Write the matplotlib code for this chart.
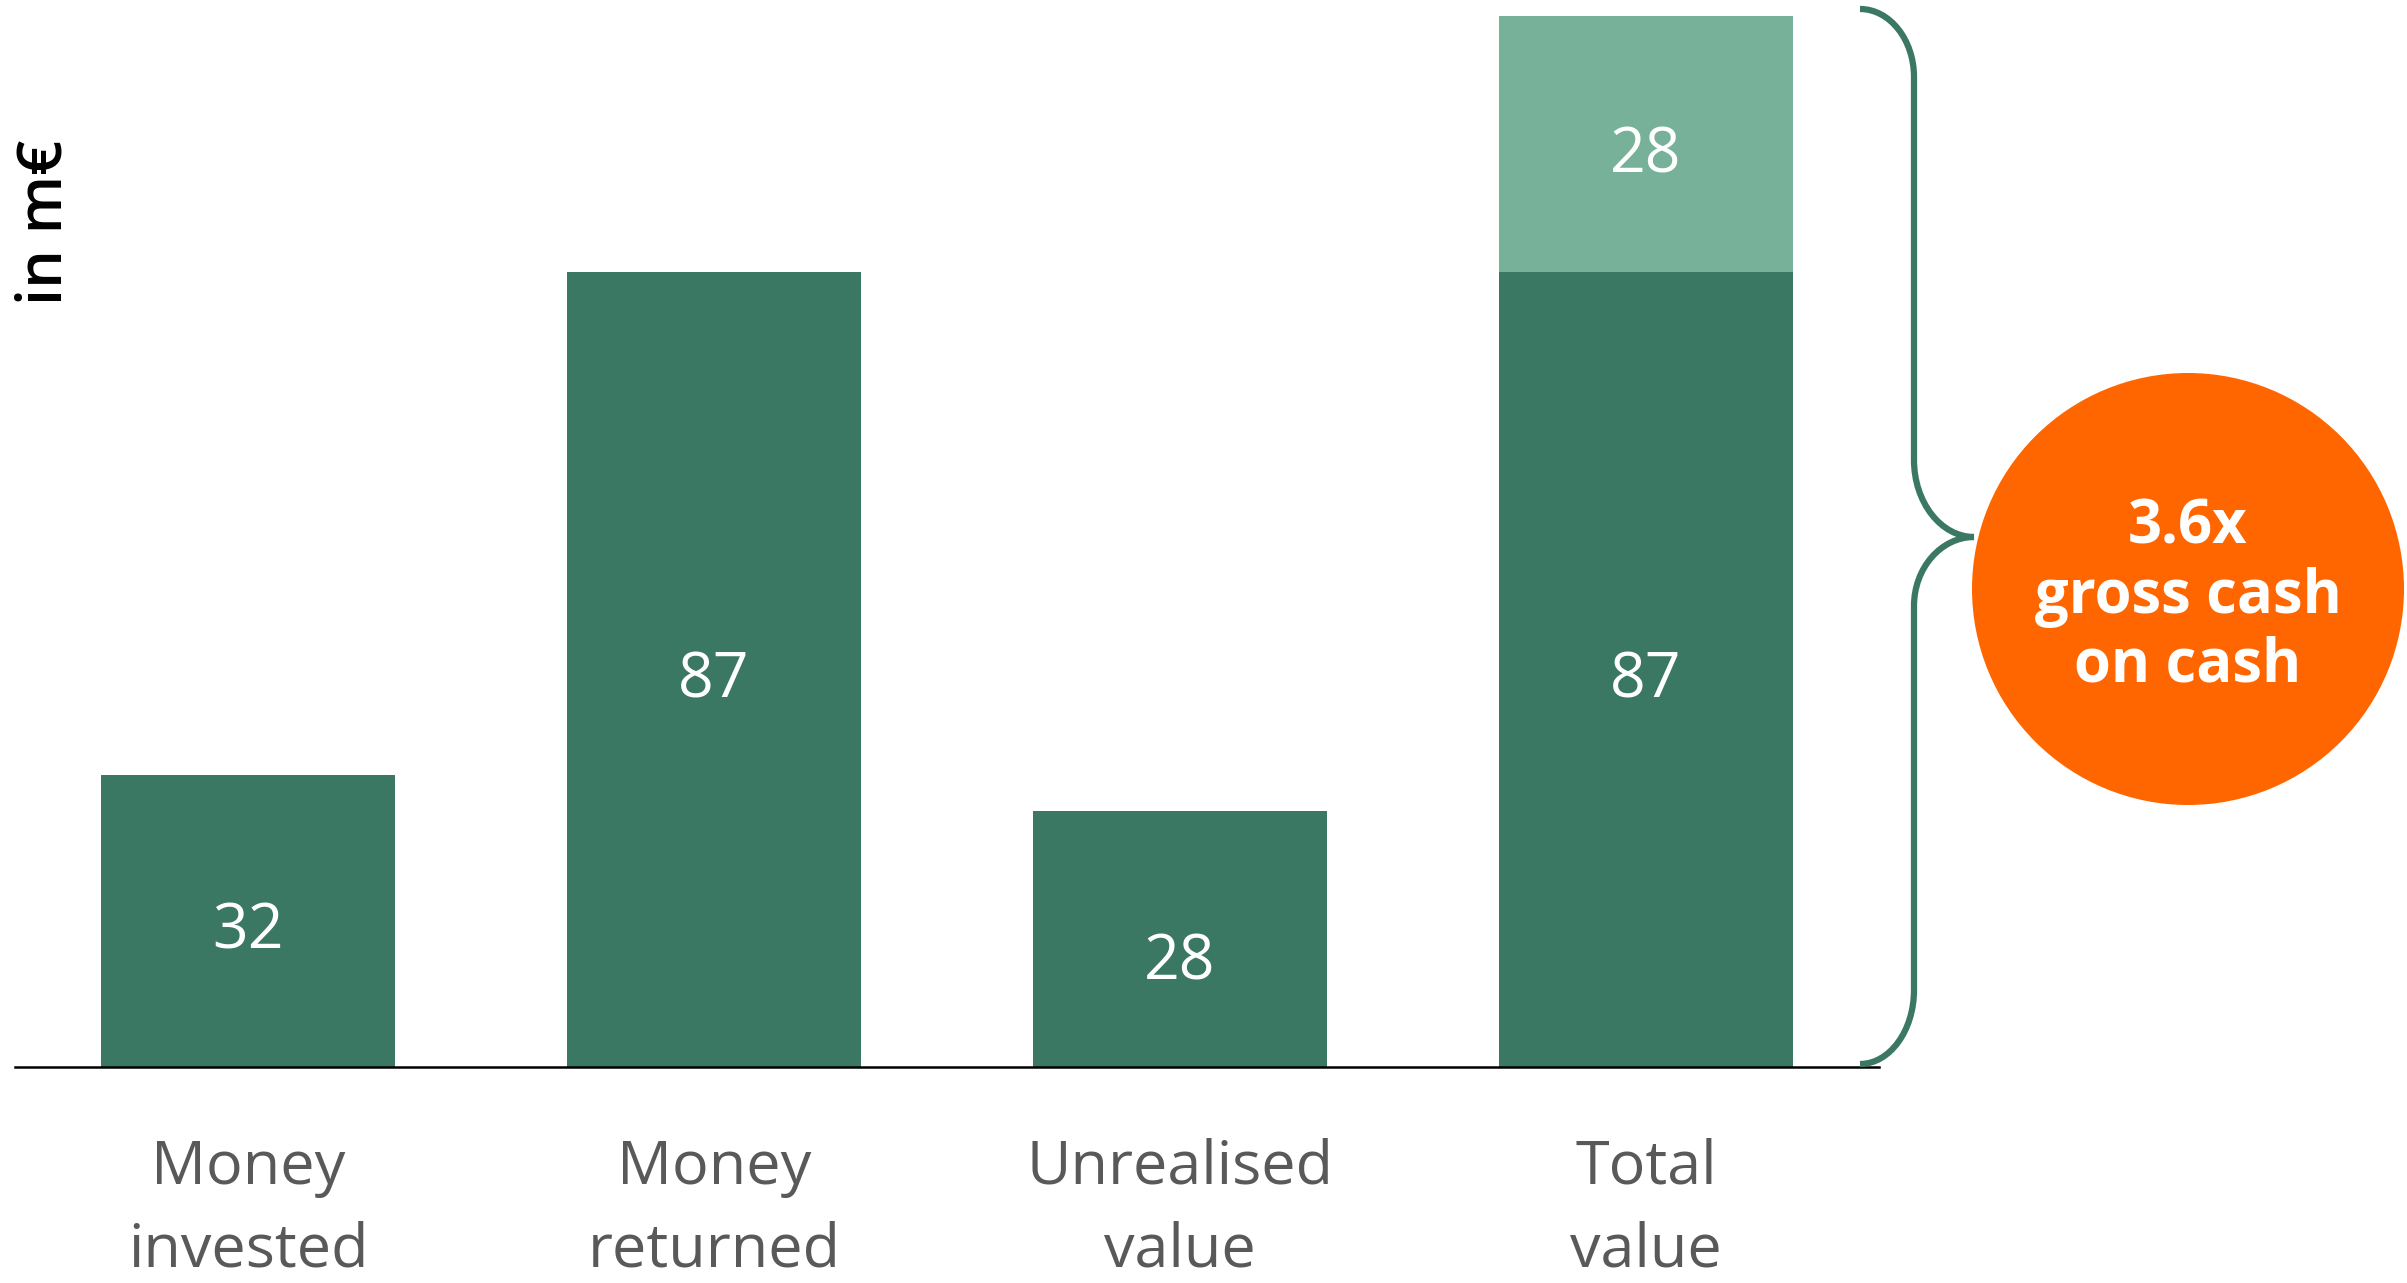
# Money invested vs returned, with total value and cash-on-cash bubble

import matplotlib.pyplot as plt
import matplotlib.transforms as mtransforms
from matplotlib.path import Path
from matplotlib.patches import PathPatch, Circle

# Data
categories = ['Money\ninvested', 'Money\nreturned', 'Unrealised\nvalue', 'Total\nvalue']
base_values = [32, 87, 28, 87]     # dark green part
top_values = [0, 0, 0, 28]         # light green part (unrealised on top of total)
multiple_text = '3.6x\ngross cash\non cash'
unit_label = 'in m€'

dark = '#3b7864'
light = '#78b19a'
orange = '#ff6600'
grey = '#595959'

W, H = 2407, 1283
plt.rcParams['font.family'] = ['Open Sans', 'DejaVu Sans']

fig = plt.figure(figsize=(W / 100, H / 100), dpi=100)
# axes placed in pixels: baseline at y=1067, x axis from 15 to 1879
ax = fig.add_axes([15 / W, 216 / H, 1864 / W, 1051 / H])

x = list(range(len(categories)))
ax.bar(x, base_values, width=0.633, color=dark, zorder=2)
ax.bar(x, top_values, width=0.633, bottom=base_values, color=light, zorder=2)

ax.set_xlim(-0.5, 3.5)
ax.set_ylim(0, 115)
for s in ['top', 'right', 'left']:
    ax.spines[s].set_visible(False)
ax.spines['bottom'].set_linewidth(1.8)
ax.spines['bottom'].set_color('black')
ax.set_xticks([])
ax.set_yticks([])

# value labels inside bars
for i, (b, t) in enumerate(zip(base_values, top_values)):
    y = b / 2 - 1.3
    if i == 2:
        y -= 1.4
    ax.text(i, y, str(b), ha='center', va='center', color='white', fontsize=45, zorder=3)
    if t:
        ax.text(i, b + t / 2 - 1.3, str(t), ha='center', va='center', color='white',
                fontsize=45, zorder=3)

# pixel transform (origin top-left)
px = mtransforms.Affine2D().scale(1 / W, -1 / H).translate(0, 1) + fig.transFigure

# category labels under the axis
lab_tr = mtransforms.blended_transform_factory(ax.transData, px)
for i, c in enumerate(categories):
    ax.text(i, 1209, c, transform=lab_tr, ha='center', va='center', color=grey,
            fontsize=44, linespacing=1.5, clip_on=False)

# unit label
fig.text(45 / W, 1 - 222 / H, unit_label, rotation=90, ha='center', va='center',
         fontsize=44, fontweight='semibold', color='black')

# curly brace
xl, xv, xt = 1860, 1914, 1974
yt, yb, ym = 9, 1064, 537
k = 0.55
verts = [
    (xl, yt), (xl + k * (xv - xl), yt), (xv, yt + 68 - k * 68), (xv, yt + 68),
    (xv, ym - 77),
    (xv, ym - 77 + k * 77), (xt - k * (xt - xv), ym), (xt, ym),
    (xt - k * (xt - xv), ym), (xv, ym + 69 - k * 69), (xv, ym + 69),
    (xv, yb - 74),
    (xv, yb - 74 + k * 74), (xl + k * (xv - xl), yb), (xl, yb),
]
codes = [Path.MOVETO, Path.CURVE4, Path.CURVE4, Path.CURVE4,
         Path.LINETO,
         Path.CURVE4, Path.CURVE4, Path.CURVE4,
         Path.CURVE4, Path.CURVE4, Path.CURVE4,
         Path.LINETO,
         Path.CURVE4, Path.CURVE4, Path.CURVE4]
fig.patches.append(PathPatch(Path(verts, codes), transform=px, facecolor='none',
                             edgecolor=dark, linewidth=4.5, capstyle='butt'))

# orange bubble
fig.patches.append(Circle((2188, 589), 216, transform=px, facecolor=orange, edgecolor='none'))
fig.text(2188 / W, 1 - 597 / H, multiple_text, ha='center', va='center', color='white',
         fontsize=43, fontweight='bold', linespacing=1.18)

fig.savefig('out.png', dpi=100)
